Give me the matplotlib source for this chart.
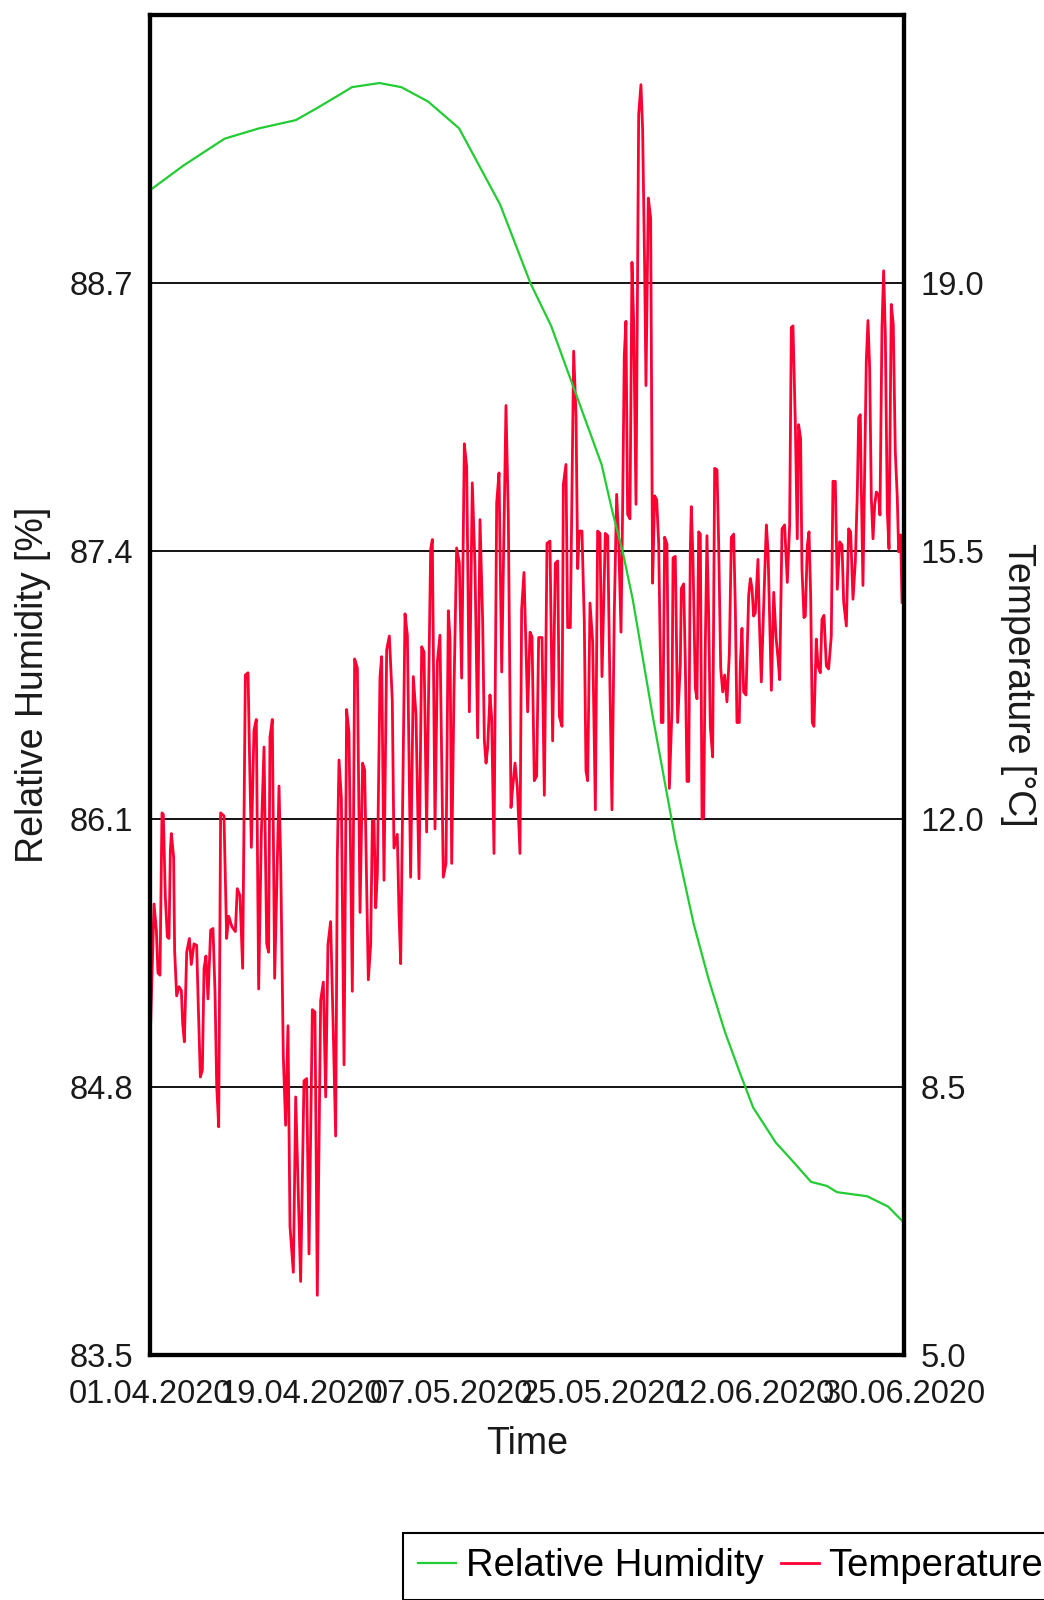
import matplotlib
matplotlib.use("Agg")
import matplotlib.pyplot as plt
import matplotlib.dates as mdates
import pandas as pd

plt.rcParams['font.family'] = ['Liberation Sans', 'DejaVu Sans']

# ----------------------------------------------------------------------
# data (days since 01.04.2020)
# ----------------------------------------------------------------------
start = '2020-04-01'
end = '2020-06-30'

hum_day = [0, 4, 8.9, 13, 17.4, 20, 22.9, 24.1, 27.4, 30, 33.2, 36.9, 41.8,
           43.6, 45.4, 47.9, 50.5, 53.9, 55.2, 56.4, 57.6, 60.0, 62.7, 64.9,
           66.7, 68.6, 70.4, 72.0, 74.7, 76.5, 78.9, 80.8, 82.0, 85.6, 88.1,
           89.8]
hum_val = [89.15, 89.27, 89.40, 89.45, 89.49, 89.55, 89.62, 89.65, 89.67,
           89.65, 89.58, 89.45, 89.08, 88.89, 88.70, 88.49, 88.20, 87.82,
           87.59, 87.40, 87.17, 86.60, 86.00, 85.59, 85.32, 85.07, 84.87,
           84.70, 84.53, 84.45, 84.34, 84.32, 84.29, 84.27, 84.22, 84.15]

temp_day = [
    0.00, 0.48, 0.76, 0.95, 1.19, 1.43, 1.59, 1.83, 2.07, 2.27, 2.43, 2.55,
    2.82, 2.94, 3.18, 3.46, 3.74, 3.90, 4.10, 4.38, 4.70, 4.93, 5.25, 5.57,
    5.77, 6.01, 6.25, 6.45, 6.68, 6.92, 7.24, 7.52, 7.76, 7.96, 8.20, 8.43,
    8.83, 9.15, 9.39, 9.79, 10.19, 10.42, 10.74, 11.06, 11.38, 11.70, 11.90,
    12.10, 12.41, 12.69, 12.97, 13.29, 13.61, 13.93, 14.16, 14.32, 14.60,
    14.88,
    15.40, 15.60, 15.91, 16.19, 16.47, 16.71, 17.11, 17.39, 17.98, 18.38,
    18.70, 18.98, 19.38, 19.69, 19.97, 20.37, 20.69, 20.97, 21.24, 21.56,
    21.88, 22.16, 22.36, 22.56, 22.84, 23.16, 23.47, 23.75, 24.15, 24.43,
    24.75, 25.07, 25.38, 25.62, 26.06, 26.34, 26.54, 26.74, 26.94, 27.14,
    27.45, 27.65, 27.93, 28.25, 28.57, 28.92, 29.12, 29.52, 29.72, 29.92,
    30.44, 30.72, 31.11, 31.43, 31.75, 32.11, 32.43, 32.71, 33.02, 33.50,
    33.70, 34.02, 34.30, 34.61, 35.01, 35.33, 35.61, 35.81, 36.01, 36.29,
    36.60, 36.92, 37.20, 37.52, 37.80, 38.12, 38.47, 38.79, 39.11, 39.39,
    39.71, 39.91, 40.11, 40.30, 40.58, 40.78, 41.06, 41.38, 41.66, 41.98,
    42.49, 42.77, 43.09, 43.29, 43.57, 43.85, 44.16, 44.36, 44.64, 44.88,
    45.08, 45.36, 45.60, 45.87, 46.15, 46.39, 46.79, 47.07, 47.39, 47.74,
    48.06, 48.38, 48.66, 48.86, 49.18, 49.34, 49.65, 49.85, 50.17, 50.57,
    50.85, 51.05, 51.24, 51.56, 51.84, 52.04, 52.24, 52.52, 52.84, 53.16,
    53.43, 53.71, 53.95, 54.35, 54.63, 54.91, 55.14, 55.42, 55.70, 55.94,
    56.22, 56.42, 56.61, 56.81, 57.01, 57.29, 57.53, 57.73, 58.01, 58.33,
    58.60, 58.80, 59.04, 59.20, 59.48, 59.76, 59.99,
    60.24, 60.48, 60.72, 61.03, 61.23, 61.43, 61.71, 61.99, 62.31, 62.43,
    62.70, 62.98, 63.30, 63.42, 63.70, 63.90, 64.10, 64.30, 64.49, 64.61,
    64.81, 65.09, 65.29, 65.49, 65.69, 65.89, 66.09, 66.28, 66.48, 66.68,
    66.88, 67.16, 67.40, 67.68, 67.88, 68.12, 68.36, 68.59, 68.87, 69.15,
    69.39, 69.67, 69.87, 70.06, 70.34, 70.46, 70.66, 70.86, 71.14, 71.46,
    71.66, 71.86, 72.05, 72.25, 72.57, 72.73, 72.97, 73.25, 73.57, 73.77,
    74.05, 74.17, 74.45, 74.72, 74.96,
    75.16, 75.44, 75.75, 76.07, 76.35, 76.55, 76.75, 77.03, 77.26, 77.42,
    77.66, 77.82, 78.06, 78.22, 78.46, 78.66, 78.86, 79.05, 79.25, 79.53,
    79.73, 80.01, 80.21, 80.45, 80.73, 81.00, 81.32, 81.52, 81.80, 82.04,
    82.32, 82.60, 82.80, 83.12, 83.39, 83.63, 83.91, 84.19, 84.43, 84.59,
    84.78, 84.90, 85.10, 85.38, 85.50, 85.70, 85.90, 86.10, 86.30, 86.50,
    86.70, 86.97, 87.13, 87.37, 87.57, 87.77, 88.01, 88.21, 88.48, 88.72,
    88.96, 89.20, 89.36, 89.60, 89.76]
temp_val = [
    9.02, 10.89, 10.55, 9.99, 9.96, 12.08, 12.06, 10.98, 10.46, 10.44, 11.59,
    11.81, 11.50, 10.28, 9.69, 9.81, 9.76, 9.33, 9.09, 10.26, 10.44, 10.10,
    10.37, 10.35, 9.54, 8.63, 8.72, 10.05, 10.21, 9.65, 10.55, 10.57, 9.74,
    8.52, 7.98, 12.08, 12.04, 10.44, 10.73, 10.59, 10.53, 11.09, 11.00, 10.05,
    13.88, 13.91, 12.71, 11.63, 13.16, 13.30, 9.78, 11.81, 12.94, 10.37,
    10.26, 13.07, 13.30, 9.92,
    12.43, 11.44, 8.91, 8.00, 9.30, 6.68, 6.08, 8.37, 5.96, 8.58, 8.61, 6.32,
    9.51, 9.48, 5.78, 9.63, 9.87, 8.37, 10.36, 10.66, 9.21, 7.86, 11.50,
    12.77, 12.28, 8.79, 13.43, 13.13, 9.75, 14.09, 13.97, 10.78, 12.73,
    12.64, 9.90, 10.36, 11.98, 11.98, 10.84, 11.29, 13.85, 14.12, 11.20,
    14.21, 14.39, 13.55, 11.62, 11.80, 10.78, 10.11,
    14.68, 14.40, 11.24, 13.86, 13.36, 11.22, 14.25, 14.18, 11.83, 15.52,
    15.65, 11.87, 14.05, 14.40, 11.24, 11.42, 14.72, 14.35, 11.42, 13.71,
    15.54, 15.35, 13.84, 16.90, 16.60, 13.40, 16.39, 15.31, 13.06, 15.91,
    14.57, 13.02, 12.73, 12.93, 13.62, 13.32, 11.55, 16.13, 16.52, 13.92,
    17.40, 15.95, 12.15, 12.41, 12.73, 12.41, 11.55, 14.74, 15.22, 14.20,
    13.40, 14.44, 14.38, 12.50, 12.56, 14.37, 14.37, 12.31, 15.60, 15.63,
    13.02, 15.34, 15.37, 13.34, 13.21, 16.37, 16.63, 14.50, 14.50, 18.11,
    17.27, 15.27, 15.76, 15.76, 14.57, 12.63, 12.50, 14.82, 14.31, 12.12,
    15.76, 15.73, 13.86, 15.73, 15.70, 13.66, 12.12, 14.69, 16.24, 15.66,
    14.44, 16.11, 18.05, 18.50, 15.98, 15.92, 19.27, 18.50, 16.11, 21.20,
    21.59, 21.01, 19.21, 17.66, 20.11, 19.85, 15.08,
    16.22, 16.17, 15.59, 13.26, 13.26, 15.68, 15.59, 12.40, 13.44, 15.41,
    15.43, 13.26, 14.02, 15.01, 15.07, 14.02, 12.49, 12.49, 15.50, 16.08,
    15.41, 13.71, 13.57, 15.75, 15.72, 12.00, 12.02, 14.24, 15.70, 14.69,
    13.21, 12.81, 16.58, 16.56, 15.59, 13.97, 13.66, 13.88, 13.53, 14.15,
    15.68, 15.72, 14.74, 13.26, 13.26, 14.02, 14.49, 13.66, 13.62, 14.92,
    15.14, 15.01, 14.65, 14.69, 15.39, 14.60, 13.79, 14.78, 15.84, 15.50,
    14.24, 13.68, 14.96, 14.38, 14.10,
    13.82, 15.79, 15.84, 15.09, 15.84, 18.42, 18.44, 17.15, 15.66, 17.15,
    16.97, 15.27, 14.63, 14.65, 15.57, 15.75, 14.92, 13.26, 13.21, 14.35,
    14.00, 13.91, 14.61, 14.66, 14.00, 13.96, 14.39, 16.41, 16.41, 15.00,
    15.62, 15.58, 14.83, 14.52, 15.79, 15.75, 14.87, 15.36, 16.27, 17.24,
    17.28, 16.36, 15.05, 17.06, 17.98, 18.51, 17.89, 16.19, 15.66, 16.10,
    16.27, 16.23, 15.97, 18.42, 19.16, 18.33, 16.01, 15.53, 18.72, 18.46,
    16.80, 16.19, 15.49, 15.71, 14.83]

hum_ticks = [83.5, 84.8, 86.1, 87.4, 88.7]
temp_ticks = [5.0, 8.5, 12.0, 15.5, 19.0]

t0 = pd.Timestamp(start)
hum_t = t0 + pd.to_timedelta(hum_day, unit='D')
temp_t = t0 + pd.to_timedelta(temp_day, unit='D')
xticks = pd.date_range(start, end, freq='18D')

green = '#22cc33'
red = '#ff0033'
txt = '#1a1a1a'

# ----------------------------------------------------------------------
# figure
# ----------------------------------------------------------------------
fig = plt.figure(figsize=(10.44, 16), dpi=100)
ax = fig.add_axes([150/1044, 1-1355/1600, 754/1044, 1340/1600])
ax2 = ax.twinx()

# humidity drawn above temperature
ax.set_zorder(ax2.get_zorder() + 1)
ax.patch.set_visible(False)
ax2.patch.set_visible(True)
ax2.patch.set_facecolor('white')

l2, = ax2.plot(temp_t, temp_val, color=red, lw=2.0, label='Temperature')
l1, = ax.plot(hum_t, hum_val, color=green, lw=1.6, label='Relative Humidity')

ax.set_xlim(pd.Timestamp(start), pd.Timestamp(end))
ax.set_ylim(83.5, 90.0)
ax2.set_ylim(5.0, 22.5)
ax.set_yticks(hum_ticks)
ax2.set_yticks(temp_ticks)
ax.yaxis.set_major_formatter(plt.FormatStrFormatter('%.1f'))
ax2.yaxis.set_major_formatter(plt.FormatStrFormatter('%.1f'))
ax.set_xticks(xticks)
ax.xaxis.set_major_formatter(mdates.DateFormatter('%d.%m.%Y'))

ax2.grid(True, color='black', lw=1.3)
ax2.xaxis.grid(True, color='black', lw=1.3)

for a in (ax, ax2):
    for s in a.spines.values():
        s.set_linewidth(3.0)
        s.set_color('black')
ax.tick_params(axis='y', length=0, pad=12, labelsize=23.5, labelcolor=txt)
ax.tick_params(axis='x', length=0, pad=17, labelsize=23.5, labelcolor=txt)
ax2.tick_params(axis='y', length=0, pad=12, labelsize=23.5, labelcolor=txt)

ax.set_ylabel('Relative Humidity [%]', fontsize=27, color=txt)
ax.yaxis.set_label_coords(-0.131, 0.5)
ax2.set_ylabel('Temperature [°C]', fontsize=27, rotation=270, va='bottom', color=txt)
ax2.yaxis.set_label_coords(1.127, 0.5)
ax.set_xlabel('Time', fontsize=27, color=txt)
ax.xaxis.set_label_coords(0.5, -0.053)

leg = fig.legend([l1, l2], ['Relative Humidity', 'Temperature'],
                 loc='upper left', bbox_to_anchor=(403/1044, 1-1533/1600),
                 ncol=2, fontsize=27.5, frameon=True, fancybox=False,
                 edgecolor='black', framealpha=1, handlelength=1.0,
                 handletextpad=0.25, columnspacing=0.45, borderpad=0.4,
                 borderaxespad=0)
leg.get_frame().set_linewidth(1.5)

fig.savefig('out.png', dpi=100)
